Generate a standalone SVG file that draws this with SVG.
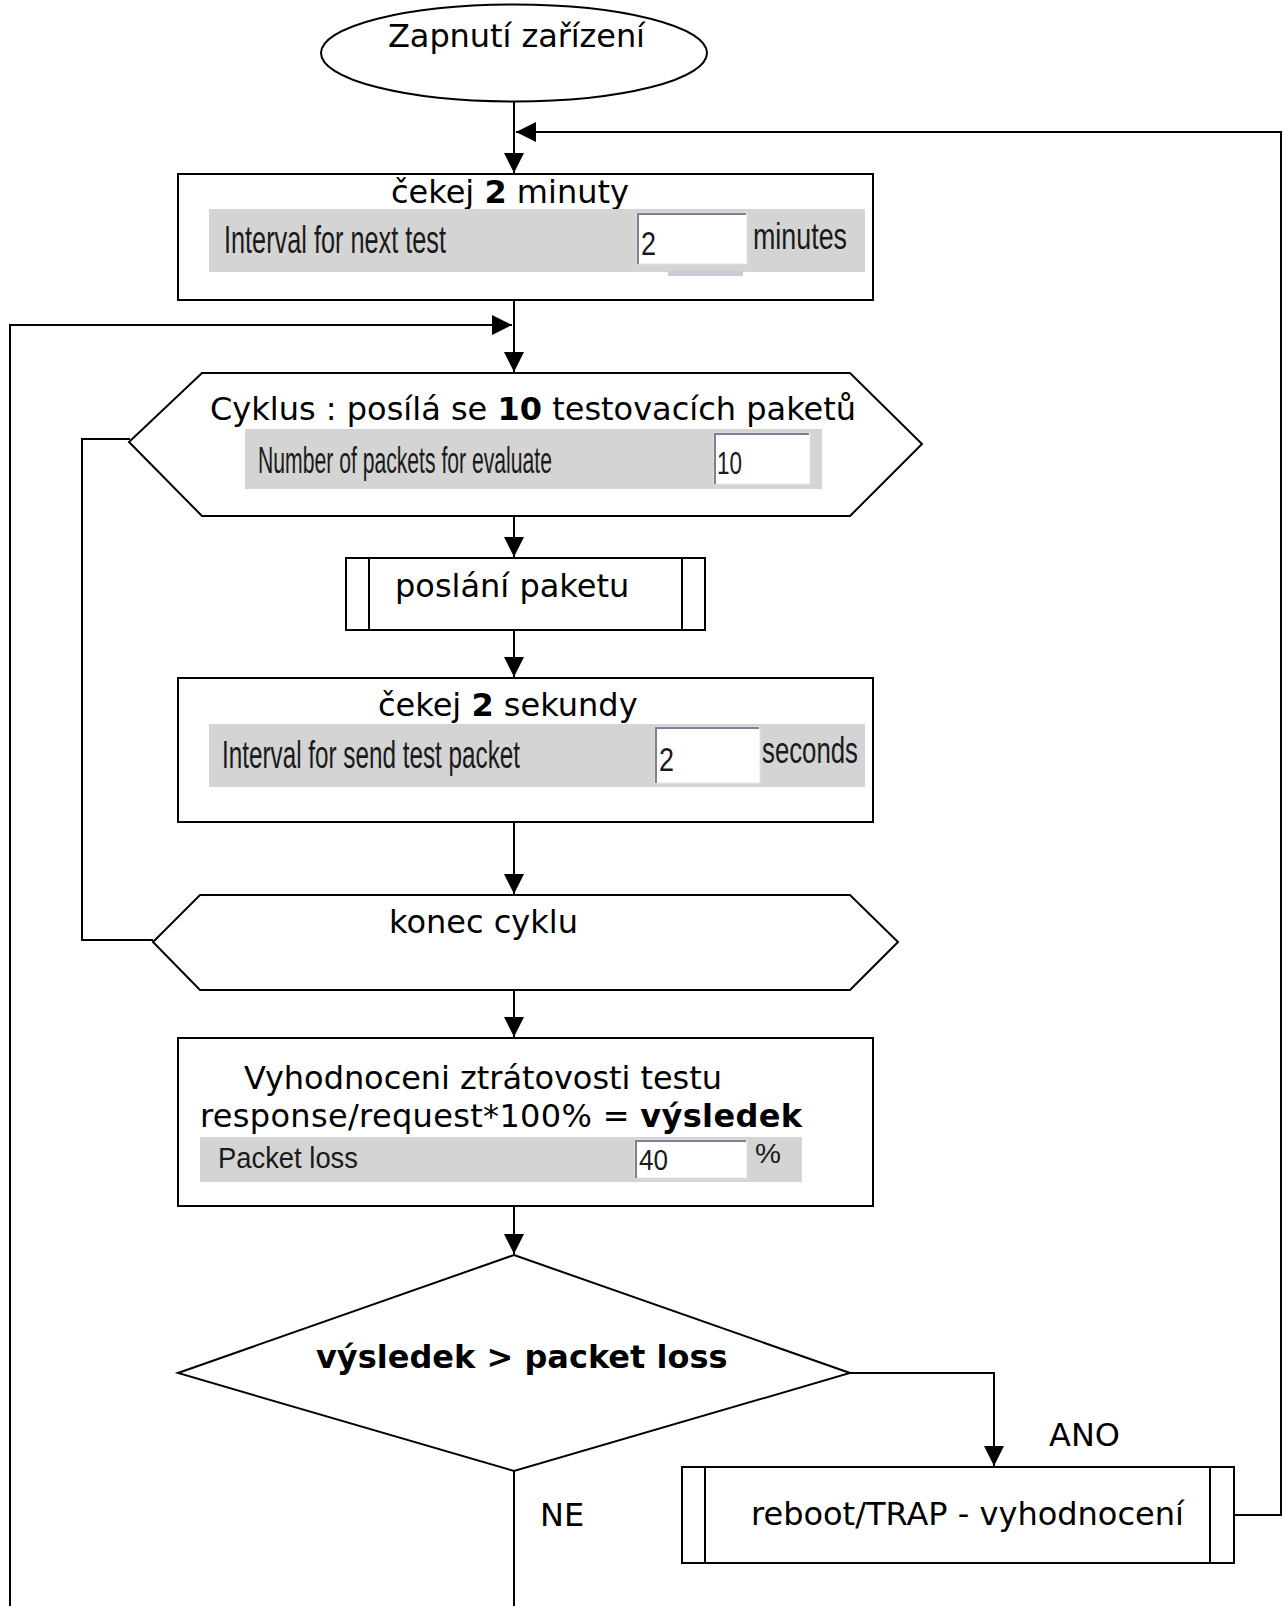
<svg xmlns="http://www.w3.org/2000/svg" width="1284" height="1606" viewBox="0 0 1284 1606">
<defs>
<style>
.shape{fill:#fff;stroke:#000;stroke-width:2}
.conn{fill:none;stroke:#000;stroke-width:2}
.t{font-family:"DejaVu Sans","Verdana",sans-serif;font-size:32px;fill:#000}
.b{font-weight:bold}
.panel{fill:#d4d4d4}
.inp{fill:#fff;stroke:#e4e4e8;stroke-width:1}
.bev{fill:none;stroke:#7c8194;stroke-width:2}
.s{font-family:"Liberation Sans",Arial,sans-serif;fill:#1a1a1a}
</style>
<marker id="arr" markerWidth="20" markerHeight="20" refX="20" refY="10" orient="auto" markerUnits="userSpaceOnUse">
<path d="M0,0 L20,10 L0,20 z" fill="#000"/>
</marker>
</defs>
<rect width="1284" height="1606" fill="#fff"/>

<g id="connectors">
<path class="conn" d="M514,102 V173" marker-end="url(#arr)"/>
<path class="conn" d="M1234,1515 H1281 V132 H516" marker-end="url(#arr)"/>
<path class="conn" d="M514,300 V372" marker-end="url(#arr)"/>
<path class="conn" d="M10,1606 V325 H512" marker-end="url(#arr)"/>
<path class="conn" d="M514,516 V557" marker-end="url(#arr)"/>
<path class="conn" d="M514,630 V677" marker-end="url(#arr)"/>
<path class="conn" d="M514,822 V894" marker-end="url(#arr)"/>
<path class="conn" d="M153,940 H82 V439 H130"/>
<path class="conn" d="M514,990 V1037" marker-end="url(#arr)"/>
<path class="conn" d="M514,1206 V1254" marker-end="url(#arr)"/>
<path class="conn" d="M850,1373 H994 V1466" marker-end="url(#arr)"/>
<path class="conn" d="M514,1471 V1606"/>
</g>

<g id="start">
<ellipse class="shape" cx="514" cy="53" rx="193" ry="48.5"/>
<text class="t" x="388" y="47" textLength="257" lengthAdjust="spacing">Zapnutí zařízení</text>
</g>

<g id="wait-minutes">
<rect class="shape" x="178" y="174" width="695" height="126"/>
<text class="t" x="391" y="203">čekej <tspan class="b">2</tspan> minuty</text>
<rect class="panel" x="209" y="209" width="656" height="63"/>
<rect x="668" y="271" width="75" height="5" fill="#c9ccd6"/>
<rect class="inp" x="637" y="213" width="110" height="51"/>
<path class="bev" d="M638,264 V214 H746"/>
<text class="s" x="224" y="253" font-size="38" textLength="222" lengthAdjust="spacingAndGlyphs">Interval for next test</text>
<text class="s" x="641" y="255" font-size="34" textLength="15" lengthAdjust="spacingAndGlyphs">2</text>
<text class="s" x="753" y="249" font-size="36" textLength="94" lengthAdjust="spacingAndGlyphs">minutes</text>
</g>

<g id="loop-start">
<polygon class="shape" points="202,373 850,373 922,444 850,516 202,516 129,442"/>
<text class="t" x="210" y="420">Cyklus : posílá se <tspan class="b">10</tspan> testovacích paketů</text>
<rect class="panel" x="245" y="429" width="577" height="60"/>
<rect class="inp" x="714" y="433" width="96" height="51"/>
<path class="bev" d="M715,484 V434 H809"/>
<text class="s" x="258" y="473" font-size="36" textLength="294" lengthAdjust="spacingAndGlyphs">Number of packets for evaluate</text>
<text class="s" x="717" y="474" font-size="32" textLength="25" lengthAdjust="spacingAndGlyphs">10</text>
</g>

<g id="send-packet">
<rect class="shape" x="346" y="558" width="359" height="72"/>
<line class="conn" x1="369" y1="558" x2="369" y2="630"/>
<line class="conn" x1="682" y1="558" x2="682" y2="630"/>
<text class="t" x="395" y="597">poslání paketu</text>
</g>

<g id="wait-seconds">
<rect class="shape" x="178" y="678" width="695" height="144"/>
<text class="t" x="378" y="716">čekej <tspan class="b">2</tspan> sekundy</text>
<rect class="panel" x="209" y="724" width="656" height="63"/>
<rect class="inp" x="655" y="727" width="105" height="56"/>
<path class="bev" d="M656,783 V728 H759"/>
<text class="s" x="222" y="768" font-size="38" textLength="298" lengthAdjust="spacingAndGlyphs">Interval for send test packet</text>
<text class="s" x="659" y="771" font-size="33" textLength="15" lengthAdjust="spacingAndGlyphs">2</text>
<text class="s" x="762" y="763" font-size="36" textLength="96" lengthAdjust="spacingAndGlyphs">seconds</text>
</g>

<g id="loop-end">
<polygon class="shape" points="200,895 850,895 898,942 850,990 200,990 153,942"/>
<text class="t" x="389" y="933">konec cyklu</text>
</g>

<g id="evaluate">
<rect class="shape" x="178" y="1038" width="695" height="168"/>
<text class="t" x="244" y="1089" textLength="478" lengthAdjust="spacing">Vyhodnoceni ztrátovosti testu</text>
<text class="t" x="200" y="1127" textLength="602" lengthAdjust="spacing">response/request*100% = <tspan class="b">výsledek</tspan></text>
<rect class="panel" x="200" y="1137" width="602" height="45"/>
<rect class="inp" x="635" y="1140" width="112" height="38"/>
<path class="bev" d="M636,1178 V1141 H746"/>
<text class="s" x="218" y="1168" font-size="29" textLength="140" lengthAdjust="spacingAndGlyphs">Packet loss</text>
<text class="s" x="639" y="1170" font-size="29" textLength="29" lengthAdjust="spacingAndGlyphs">40</text>
<text class="s" x="755" y="1163" font-size="28" textLength="26" lengthAdjust="spacingAndGlyphs">%</text>
</g>

<g id="decision">
<polygon class="shape" points="514,1255 850,1373 514,1471 178,1373"/>
<text class="t b" x="316" y="1368">výsledek &gt; packet loss</text>
</g>

<g id="reboot">
<rect class="shape" x="682" y="1467" width="552" height="96"/>
<line class="conn" x1="705" y1="1467" x2="705" y2="1563"/>
<line class="conn" x1="1210" y1="1467" x2="1210" y2="1563"/>
<text class="t" x="751" y="1525">reboot/TRAP - vyhodnocení</text>
</g>

<g id="labels">
<text class="t" x="1049" y="1446">ANO</text>
<text class="t" x="540" y="1526">NE</text>
</g>
</svg>
